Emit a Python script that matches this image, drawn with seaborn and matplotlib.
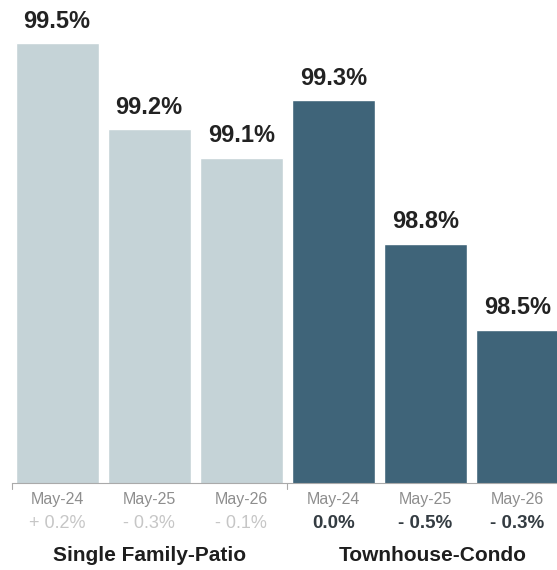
import matplotlib
matplotlib.use("Agg")
import matplotlib.pyplot as plt
import matplotlib.transforms as mtransforms
import seaborn as sns
import pandas as pd

groups = ["Single Family-Patio", "Single Family-Patio", "Single Family-Patio",
          "Townhouse-Condo", "Townhouse-Condo", "Townhouse-Condo"]
months = ["May-24", "May-25", "May-26", "May-24", "May-25", "May-26"]
values = [99.5, 99.2, 99.1, 99.3, 98.8, 98.5]
value_labels = ["99.5%", "99.2%", "99.1%", "99.3%", "98.8%", "98.5%"]
changes = ["+ 0.2%", "- 0.3%", "- 0.1%", "0.0%", "- 0.5%", "- 0.3%"]
group_names = ["Single Family-Patio", "Townhouse-Condo"]

sns.set_style("white")
plt.rcParams['font.family'] = ['Liberation Sans', 'DejaVu Sans']

df = pd.DataFrame({"key": [f"{g}|{m}" for g, m in zip(groups, months)],
                   "group": groups, "value": values})

fig = plt.figure(figsize=(5.57, 5.70), dpi=100)
ax = fig.add_axes([12/557, 87/570, 545/557, 483/570])

light = "#c5d3d7"
dark = "#3f6479"
sns.barplot(data=df, x="key", y="value", hue="group",
            palette={"Single Family-Patio": light, "Townhouse-Condo": dark},
            width=0.9, dodge=False, legend=False, ax=ax, saturation=1)

ax.set_ylim(97.965, 99.65)
ax.set_xlim(-0.49, 5.43)

# bar value labels
for i, (v, lab) in enumerate(zip(values, value_labels)):
    ax.annotate(lab, xy=(i, v), xytext=(0, 7.5), textcoords="offset points",
                ha="center", va="bottom", fontsize=17, fontweight="bold",
                color="#222222")

ax.set_xticks(range(len(months)))
ax.set_xticklabels([])
ax.tick_params(axis="x", length=0)
ax.set_yticks([])
ax.set_xlabel("")
ax.set_ylabel("")

for s in ["top", "left", "right"]:
    ax.spines[s].set_visible(False)
ax.spines["bottom"].set_color("#aaaaaa")
ax.spines["bottom"].set_linewidth(0.8)

# small separator ticks below the baseline
trans = mtransforms.blended_transform_factory(ax.transData, ax.transAxes)
for sx in [-0.49, 2.5]:
    ax.plot([sx, sx], [0, -0.012], transform=trans, color="#aaaaaa",
            lw=0.8, clip_on=False)

# month labels
for i, m in enumerate(months):
    ax.annotate(m, xy=(i, 0), xycoords=("data", "axes fraction"),
                xytext=(0, -12), textcoords="offset points",
                ha="center", va="center", fontsize=11.5, color="#8e8e8e")

# change labels
for i, c in enumerate(changes):
    if i < 3:
        ax.annotate(c, xy=(i, 0), xycoords=("data", "axes fraction"),
                    xytext=(0, -29.5), textcoords="offset points",
                    ha="center", va="center", fontsize=13, color="#c6c6c6")
    else:
        ax.annotate(c, xy=(i, 0), xycoords=("data", "axes fraction"),
                    xytext=(0, -29.5), textcoords="offset points",
                    ha="center", va="center", fontsize=13.5, color="#343c42",
                    fontweight="bold")

# group labels
for gx, g in zip([1.0, 4.08], group_names):
    ax.annotate(g, xy=(gx, 0), xycoords=("data", "axes fraction"),
                xytext=(0, -52.5), textcoords="offset points",
                ha="center", va="center", fontsize=15, color="#1e1e1e",
                fontweight="bold")

fig.savefig("out.png", dpi=100)
